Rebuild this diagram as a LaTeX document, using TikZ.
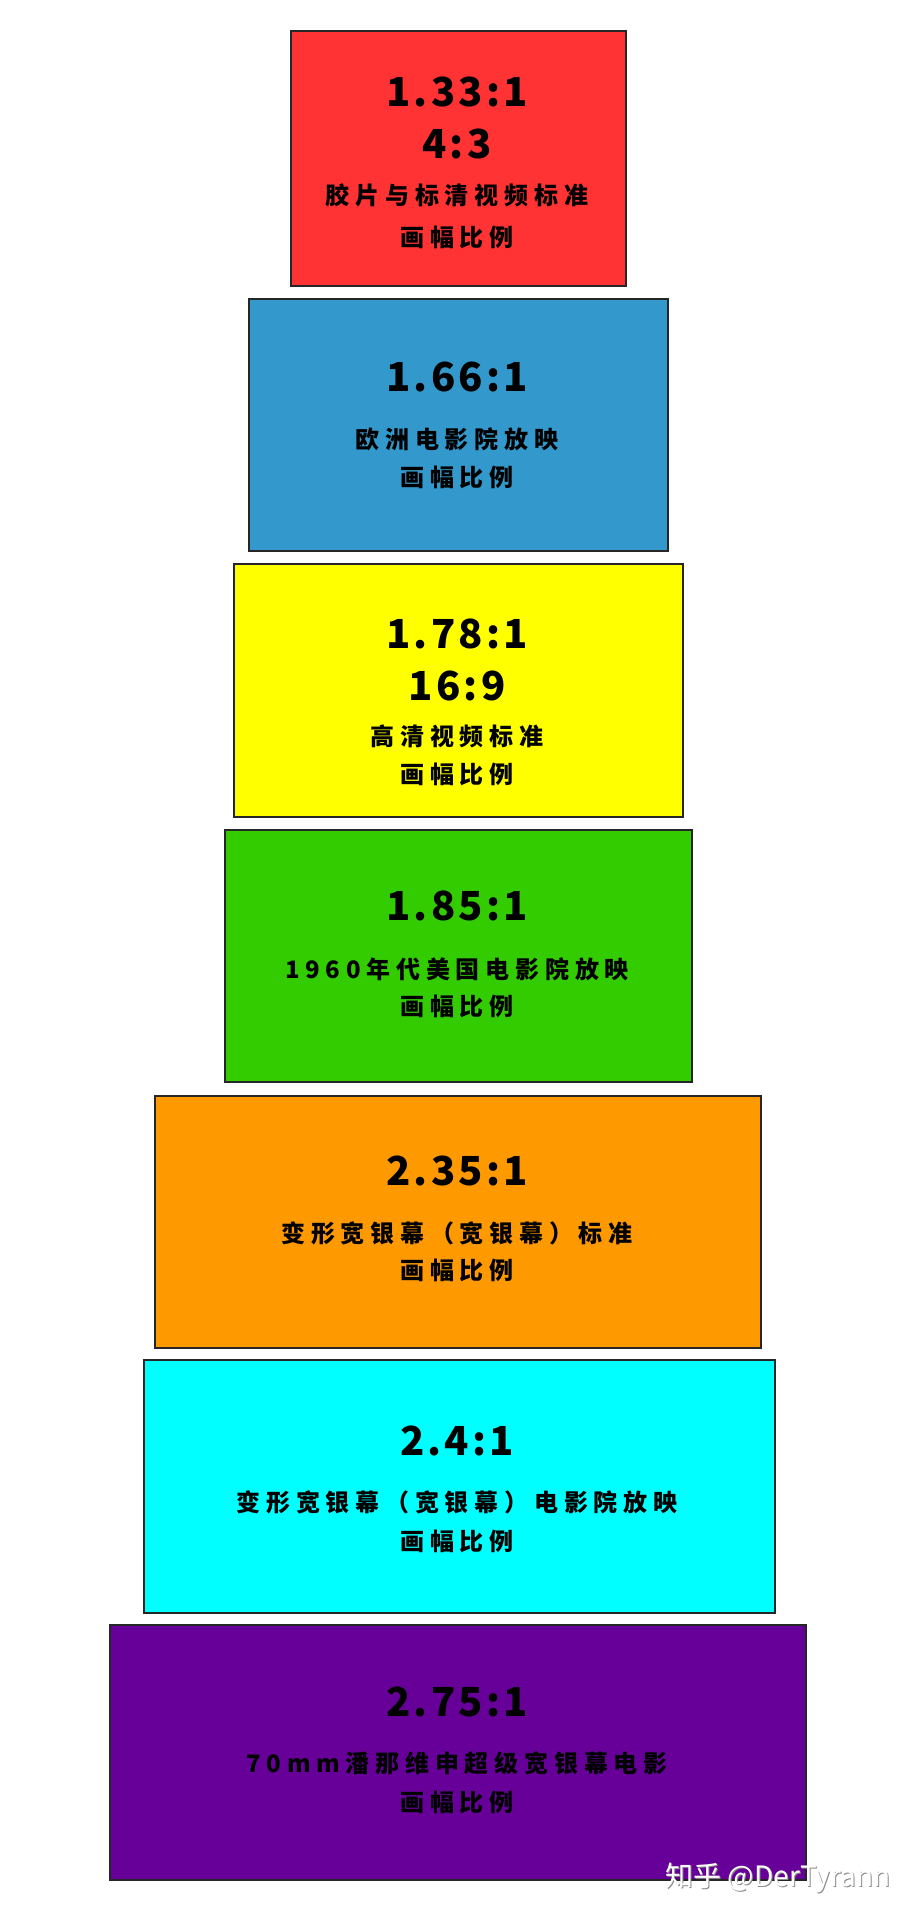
\documentclass[tikz,border=0pt]{standalone}
\usepackage{fontspec}
\setmainfont{Noto Sans CJK SC}
\definecolor{cRed}{HTML}{FF3333}
\definecolor{cBlue}{HTML}{3399CC}
\definecolor{cYellow}{HTML}{FFFF00}
\definecolor{cGreen}{HTML}{33CC00}
\definecolor{cOrange}{HTML}{FF9900}
\definecolor{cCyan}{HTML}{00FFFF}
\definecolor{cPurple}{HTML}{660099}
\tikzset{
  framebox/.style={draw=black!85, line width=2pt, inner sep=0pt, rectangle},
  ratiotext/.style={inner sep=0pt, text=black, font=\fontsize{40}{40}\selectfont\bfseries\addfontfeature{LetterSpace=8}},
  desctext/.style={inner sep=0pt, text=black, font=\fontsize{24}{24}\selectfont\bfseries\addfontfeature{LetterSpace=24}},
  marktext/.style={inner sep=0pt, font=\fontsize{28}{28}\selectfont}
}
\begin{document}
\begin{tikzpicture}[x=1pt,y=-1pt]
\useasboundingbox (0,0) rectangle (912,1920);
\fill[white] (0,0) rectangle (912,1920);
% boxes
\node[framebox, fill=cRed,    minimum width=335pt, minimum height=255pt] (b1) at (458.5,158.5) {};
\node[framebox, fill=cBlue,   minimum width=419pt, minimum height=252pt] (b2) at (458.5,425) {};
\node[framebox, fill=cYellow, minimum width=449pt, minimum height=253pt] (b3) at (458.5,690.5) {};
\node[framebox, fill=cGreen,  minimum width=467pt, minimum height=252pt] (b4) at (458.5,956) {};
\node[framebox, fill=cOrange, minimum width=606pt, minimum height=252pt] (b5) at (458,1222) {};
\node[framebox, fill=cCyan,   minimum width=631pt, minimum height=253pt] (b6) at (459.5,1486.5) {};
\node[framebox, fill=cPurple, minimum width=696pt, minimum height=255pt] (b7) at (458,1752.5) {};
% red
\node[ratiotext] (t1a) at (457,92) {1.33:1};
\node[ratiotext] (t1b) at (457,144) {4:3};
\node[desctext] (t1c) at (457,195) {胶片与标清视频标准};
\node[desctext] (t1d) at (457,237) {画幅比例};
% blue
\node[ratiotext] (t2a) at (457,377) {1.66:1};
\node[desctext] (t2c) at (457,439) {欧洲电影院放映};
\node[desctext] (t2d) at (457,477) {画幅比例};
% yellow
\node[ratiotext] (t3a) at (457,634) {1.78:1};
\node[ratiotext] (t3b) at (457,686) {16:9};
\node[desctext] (t3c) at (457,736) {高清视频标准};
\node[desctext] (t3d) at (457,774) {画幅比例};
% green
\node[ratiotext] (t4a) at (457,906) {1.85:1};
\node[desctext] (t4c) at (457,969) {1960年代美国电影院放映};
\node[desctext] (t4d) at (457,1006) {画幅比例};
% orange
\node[ratiotext] (t5a) at (457,1171) {2.35:1};
\node[desctext] (t5c) at (457,1233) {变形宽银幕（宽银幕）标准};
\node[desctext] (t5d) at (457,1270) {画幅比例};
% cyan
\node[ratiotext] (t6a) at (457,1441) {2.4:1};
\node[desctext] (t6c) at (457,1502) {变形宽银幕（宽银幕）电影院放映};
\node[desctext] (t6d) at (457,1541) {画幅比例};
% purple
\node[ratiotext] (t7a) at (457,1702) {2.75:1};
\node[desctext] (t7c) at (457,1763) {70mm潘那维申超级宽银幕电影};
\node[desctext] (t7d) at (457,1802) {画幅比例};
% watermark
\node[marktext, text=black!45] (wms) at (779,1879) {知乎 @DerTyrann};
\node[marktext, text=white] (wm) at (778,1878) {知乎 @DerTyrann};
\end{tikzpicture}
\end{document}
